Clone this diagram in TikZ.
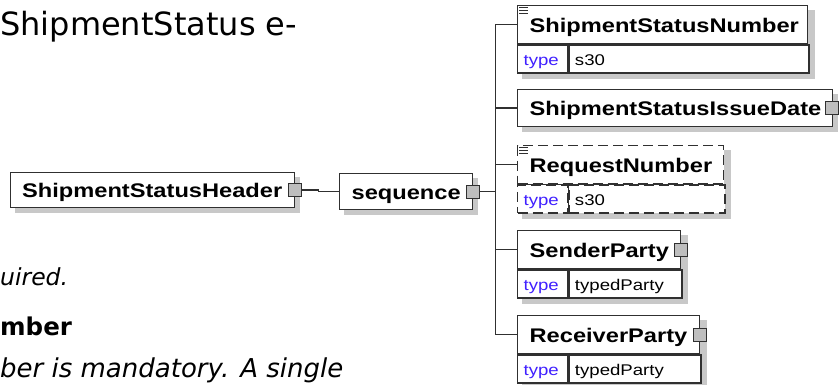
\documentclass[tikz,border=0pt]{standalone}
\usepackage{fontspec}
\usepackage{tikz}
\usetikzlibrary{positioning,calc,backgrounds}
\newfontfamily\boxfont[FakeStretch=1.2]{Liberation Sans}
\newfontfamily\docfont{DejaVu Sans}
\definecolor{boxline}{HTML}{303030}
\definecolor{shadowgray}{HTML}{C8C8C8}
\definecolor{squaregray}{HTML}{BEBEBE}
\definecolor{typeblue}{HTML}{4020FF}

\tikzset{
  elem/.style={draw=boxline, fill=white, line width=1.3pt, anchor=north west,
    inner xsep=12pt, inner ysep=0pt, minimum height=38pt, text height=15pt,
    text depth=0pt, align=left, font=\boxfont\bfseries\fontsize{19.7}{23}\selectfont},
  typecell/.style={draw=boxline, fill=white, line width=1.3pt, anchor=north west,
    inner xsep=6pt, inner ysep=0pt, minimum height=28pt, text height=14pt,
    text depth=0pt, align=left, font=\boxfont\fontsize{15.5}{18}\selectfont},
  optional/.style={dash pattern=on 10pt off 5pt},
  sq/.style={draw=boxline, fill=squaregray, line width=1pt, minimum size=13pt, inner sep=0pt},
  conn/.style={draw=boxline, line width=1.3pt},
  doc/.style={inner sep=0pt, anchor=base west, font=\docfont\fontsize{26}{30}\selectfont},
}

\begin{document}
\begin{tikzpicture}[x=1pt, y=-1pt]

\useasboundingbox (0,0) rectangle (839,385);
\clip (0,0) rectangle (839,385);

% surrounding document text
\node[doc, font=\docfont\fontsize{32}{38}\selectfont] (intro) at (0,36) {ShipmentStatus e-};
\node[doc, font=\docfont\itshape\fontsize{23.5}{28}\selectfont] (req) at (0,285) {uired.};
\node[doc, font=\docfont\bfseries\fontsize{24.5}{29}\selectfont] (num) at (0,335) {mber};
\node[doc, font=\docfont\itshape\fontsize{26}{30}\selectfont] (mand) at (0,377) {ber is mandatory. A single};

% root and compositor
\node[elem, text width=260.5pt, minimum height=35pt] (hdr) at (9.5,172) {ShipmentStatusHeader};
\node[elem, text width=109pt, inner xsep=12pt, minimum height=36pt] (seq) at (339,173) {sequence};

% child elements
\node[elem, text width=266pt] (ssn) at (517,5) {ShipmentStatusNumber};
\node[typecell, text width=38pt] (ssnt) at (ssn.south west) {\color{typeblue}type};
\node[typecell, text width=228pt] (ssnv) at (ssnt.north east) {s30};

\node[elem, text width=291pt, minimum height=37pt] (ssid) at (517,89) {ShipmentStatusIssueDate};

\node[elem, optional, text width=182pt] (rn) at (517,145) {RequestNumber};
\node[typecell, optional, text width=38pt] (rnt) at (rn.south west) {\color{typeblue}type};
\node[typecell, optional, text width=144pt] (rnv) at (rnt.north east) {s30};
\draw[conn] (rn.south west) -- (rn.south east);
\draw[conn] (rnt.north east) -- (rnt.south east);

\node[elem, text width=139pt] (sp) at (517,230) {SenderParty};
\node[typecell, text width=38pt] (spt) at (sp.south west) {\color{typeblue}type};
\node[typecell, text width=101pt] (spv) at (spt.north east) {typedParty};

\node[elem, text width=158pt] (rp) at (517,315) {ReceiverParty};
\node[typecell, text width=38pt] (rpt) at (rp.south west) {\color{typeblue}type};
\node[typecell, text width=120pt] (rpv) at (rpt.north east) {typedParty};

% shadows
\begin{scope}[on background layer]
\foreach \a/\b in {hdr/hdr, seq/seq, ssn/ssnv, ssid/ssid, rn/rnv, sp/spv, rp/rpv}
  \fill[shadowgray] ([shift={(5,5)}]\a.north west) rectangle ([shift={(5,5)}]\b.south east);
\end{scope}

% documentation icons
\foreach \k in {3,6,9} {
  \draw[boxline, line width=1pt] ([shift={(2,\k)}]ssn.north west) -- +(9,0);
  \draw[boxline, line width=1pt] ([shift={(2,\k)}]rn.north west) -- +(9,0);
}

% expand squares
\node[sq] (hs) at (hdr.east) {};
\node[sq] (qs) at (seq.east) {};
\node[sq] (ds) at ([xshift=-1]ssid.east) {};
\node[sq] (ss) at (sp.east) {};
\node[sq] (rs) at (rp.east) {};

% connectors
\draw[conn] (hs.east) -- ++(16,0) |- (seq.west);
\coordinate (bus) at ([xshift=15]qs.east);
\draw[conn] (qs.east) -- (bus);
\foreach \e in {ssn,ssid,rn,sp,rp}
  \draw[conn] (\e.west) -| (bus);

\end{tikzpicture}
\end{document}
